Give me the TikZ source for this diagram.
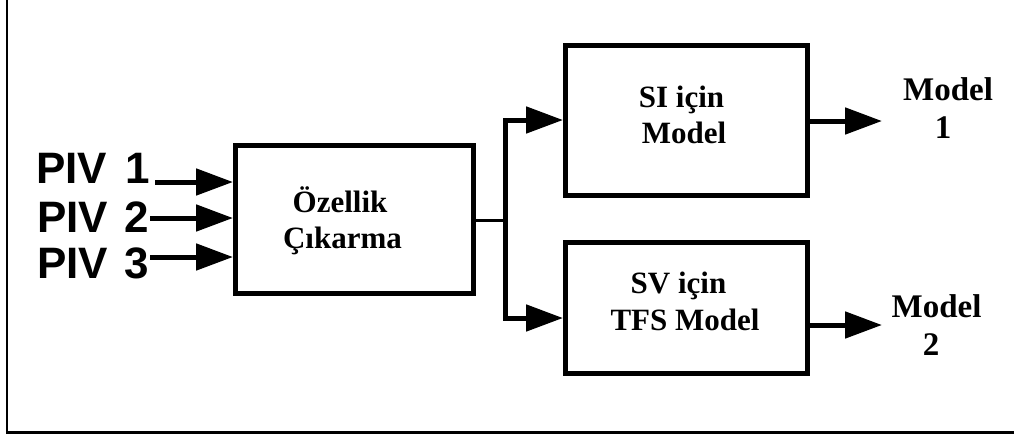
\documentclass[tikz,border=0pt]{standalone}
\usepackage{fontspec}
\setmainfont{Liberation Serif}
\setsansfont{Liberation Sans}
\usetikzlibrary{arrows.meta}

\begin{document}
\begin{tikzpicture}[x=1pt,y=-1pt,
  blk/.style={draw, line width=5pt, inner sep=0pt, line join=miter},
  lbl/.style={inner sep=0pt, anchor=base, font=\bfseries\fontsize{31}{36}\selectfont},
  outlbl/.style={inner sep=0pt, anchor=base, font=\bfseries\fontsize{33}{38}\selectfont},
  inlbl/.style={inner sep=0pt, anchor=base east, text height=32pt, text depth=0pt,
    font=\sffamily\bfseries\fontsize{44}{44}\selectfont},
  tip/.tip={Triangle[length=37pt, width=26pt]},
  arr/.style={line width=5pt, -tip},
  link/.style={line width=5pt, line join=miter},
  frame/.style={line width=2.5pt}]
\useasboundingbox (0,0) rectangle (1014,437);

% page frame (left and bottom rules)
\draw[frame] (7,0) -- (7,432.5) -- (1014,432.5);

% blocks
\node[blk, minimum width=238pt, minimum height=148pt] (fe) at (354.5,219.5) {};
\node[blk, minimum width=242pt, minimum height=150pt] (si) at (686.5,120.5) {};
\node[blk, minimum width=242pt, minimum height=131pt] (sv) at (686.5,308) {};

% block labels
\node[lbl] (fe1) at (340,212) {Özellik};
\node[lbl] (fe2) at (342.5,248) {Çıkarma};
\node[lbl] (si1) at (681.5,107) {SI için};
\node[lbl] (si2) at (684,143) {Model};
\node[lbl] (sv1) at (678.5,293) {SV için};
\node[lbl] (sv2) at (685,330) {TFS Model};

% inputs
\node[inlbl] (p1) at (150,183) {PIV\hspace{18pt}1};
\node[inlbl] (p2) at (149,232) {PIV\hspace{16pt}2};
\node[inlbl] (p3) at (149,278) {PIV\hspace{16pt}3};
\coordinate (i1) at (155,182);
\coordinate (i2) at (150,218);
\coordinate (i3) at (150,257);
\draw[arr] (i1) -- (fe.west |- i1);
\draw[arr] (i2) -- (fe.west |- i2);
\draw[arr] (i3) -- (fe.west |- i3);

% split to the two model blocks
\coordinate (jt) at (505,120);
\coordinate (jb) at (505,318);
\draw[line width=3pt] (fe.east |- 0,220) -- (jt |- 0,220);
\draw[link, tip-tip] (si.west |- jt) -- (jt) -- (jb) -- (sv.west |- jb);

% outputs
\coordinate (o1) at (882,121);
\coordinate (o2) at (882,325);
\draw[arr] (si.east |- o1) -- (o1);
\draw[arr] (sv.east |- o2) -- (o2);
\node[outlbl] (m1a) at (948,100) {Model};
\node[outlbl] (m1b) at (943,138) {1};
\node[outlbl] (m2a) at (936.5,317) {Model};
\node[outlbl] (m2b) at (931,355) {2};
\end{tikzpicture}
\end{document}
